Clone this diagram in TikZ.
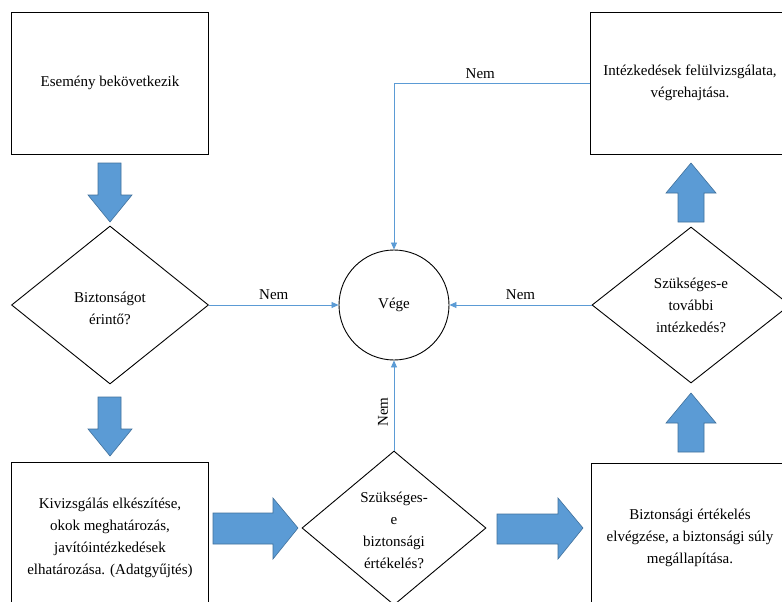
\documentclass[tikz,border=0pt]{standalone}
\usepackage{fontspec}
\setmainfont{Liberation Serif}
\usetikzlibrary{shapes.geometric,arrows.meta}
\definecolor{blk}{HTML}{5B9BD5}
\definecolor{blkb}{HTML}{41719C}
\tikzset{
  box/.style={draw=black, line width=0.9pt, fill=white, align=center, inner sep=0pt},
  dia/.style={draw=black, line width=0.9pt, diamond, aspect=1.27, inner sep=0pt},
  txt/.style={align=center, inner sep=0pt},
  conn/.style={draw=blk, line width=0.8pt, -{Triangle[width=6pt,length=7pt]}},
  lbl/.style={inner sep=0pt, font=\fontsize{15}{18}\selectfont},
  blockarrow/.style={fill=blk, draw=blkb, line width=0.6pt, line join=miter}
}
\begin{document}
\begin{tikzpicture}[x=1pt,y=-1pt, font=\fontsize{15}{22}\selectfont]
\useasboundingbox (0,0) rectangle (782,602);
\clip (0,0) rectangle (782,602);
\fill[white] (0,0) rectangle (782,602);

% boxes
\node[box, minimum width=197pt, minimum height=142pt] (b1) at (110,83) {Esemény bekövetkezik};
\node[box, minimum width=197pt, minimum height=152pt] (b2) at (110,538) {Kivizsgálás elkészítése,\\okok meghatározás,\\javítóintézkedések\\elhatározása. (Adatgyűjtés)};
\node[box, minimum width=199pt, minimum height=142pt] (b3) at (690,83) {Intézkedések felülvizsgálata,\\végrehajtása.};
\node[box, minimum width=198pt, minimum height=150pt] (b4) at (690,538) {Biztonsági értékelés\\elvégzése, a biztonsági súly\\megállapítása.};

% diamonds
\node[dia, minimum width=197pt, minimum height=158pt] (d1) at (110,305) {};
\node[txt] (t1) at (110,308) {Biztonságot\\érintő?};
\node[dia, minimum width=184pt, minimum height=154pt] (d3) at (394,528) {};
\node[txt] (t3) at (394,530) {Szükséges-\\e\\biztonsági\\értékelés?};
\node[dia, minimum width=198pt, minimum height=156pt] (d4) at (691,305) {};
\node[txt] (t4) at (691,305) {Szükséges-e\\további\\intézkedés?};

% end circle
\node[circle, draw=black, line width=0.9pt, minimum size=110pt, inner sep=0pt] (vege) at (394,305) {Vége};

% connectors
\draw[conn] (d1.east) -- node[lbl, above=5pt] {Nem} (vege.west);
\draw[conn] (d4.west) -- node[lbl, above=5pt] {Nem} (vege.east);
\draw[conn] (d3.north) -- (vege.south);
\node[lbl, rotate=90] (nemv) at (383,412) {Nem};
\coordinate (corner) at (vege.north |- b3.west);
\draw[conn] (b3.west) -- node[lbl, above=4pt, pos=0.56] {Nem} (corner) -- (vege.north);

% block arrows
\draw[blockarrow] (98,163) -- (121,163) -- (121,195) -- (132,195) -- (110,222) -- (88,195) -- (98,195) -- cycle;
\draw[blockarrow] (98,397) -- (121,397) -- (121,429) -- (132,429) -- (110,456) -- (88,429) -- (98,429) -- cycle;
\draw[blockarrow] (213,513) -- (273,513) -- (273,498) -- (298,528) -- (273,559) -- (273,544) -- (213,544) -- cycle;
\draw[blockarrow] (497,514) -- (558,514) -- (558,498) -- (583,528) -- (558,559) -- (558,544) -- (497,544) -- cycle;
\draw[blockarrow] (678,452) -- (678,423) -- (666,423) -- (691,393) -- (716,423) -- (704,423) -- (704,452) -- cycle;
\draw[blockarrow] (678,222) -- (678,193) -- (666,193) -- (691,163) -- (716,193) -- (704,193) -- (704,222) -- cycle;
\end{tikzpicture}
\end{document}
